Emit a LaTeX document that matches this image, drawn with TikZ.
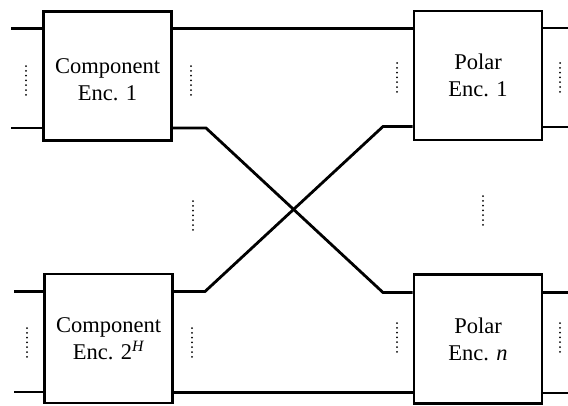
\documentclass[tikz,border=0pt]{standalone}
\usepackage{fontspec}
\setmainfont{Liberation Serif}
\begin{document}
\begin{tikzpicture}[x=1pt,y=-1pt,
  box/.style={draw, line width=2.8pt, minimum width=128pt, minimum height=129pt,
    align=center, inner sep=0pt, font=\fontsize{22.5}{27}\selectfont},
  label text/.style={align=center, font=\fontsize{22.5}{27}\selectfont},
  wire/.style={line width=2.8pt},
  dots/.style={line width=2pt, dash pattern=on 0pt off 4.8pt, line cap=round}]
\useasboundingbox (0,0) rectangle (568,405);
% boxes
\node[box] (ce1) at (107.5,76) {};
\node[label text] (ce1text) at (107.5,80) {Component\\Enc. 1};
\node[box] (p1) at (478,75.5) {Polar\\Enc. 1};
\node[box] (ce2) at (108.5,338.5) {Component\\Enc. 2\textsuperscript{\itshape H}};
\node[box] (pn) at (478,339) {Polar\\Enc. \textit{n}};
% free ends
\coordinate (a1) at (11,28.5);
\coordinate (a2) at (11,128);
\coordinate (a3) at (14,291.5);
\coordinate (a4) at (14,392);
\coordinate (b1) at (568,28);
\coordinate (b2) at (568,127);
\coordinate (b3) at (568,292.5);
\coordinate (b4) at (568,393);
% bends
\coordinate (k1) at (206,128);
\coordinate (k2) at (383,292.5);
\coordinate (k3) at (205,291.5);
\coordinate (k4) at (383,126.5);
% outer wires
\draw[wire] (a1) -- (ce1.west |- a1);
\draw[wire] (a2) -- (ce1.west |- a2);
\draw[wire] (a3) -- (ce2.west |- a3);
\draw[wire] (a4) -- (ce2.west |- a4);
\draw[wire] (pn.east |- b3) -- (b3);
\draw[wire] (pn.east |- b4) -- (b4);
\draw[wire] (p1.east |- b1) -- (b1);
\draw[wire] (p1.east |- b2) -- (b2);
% inner wires
\draw[wire] (ce1.east |- 0,28.5) -- (p1.west |- 0,28.5);
\draw[wire] (ce2.east |- 0,392.5) -- (pn.west |- 0,392.5);
\draw[wire] (ce1.east |- k1) -- (k1) -- (k2) -- (pn.west |- k2);
\draw[wire] (ce2.east |- k3) -- (k3) -- (k4) -- (p1.west |- k4);
% dotted ellipses
\draw[dots] (26,66) -- (26,98);
\draw[dots] (191,66) -- (191,99);
\draw[dots] (397,63) -- (397,95);
\draw[dots] (560,63) -- (560,95);
\draw[dots] (193,201) -- (193,234);
\draw[dots] (483,196) -- (483,229);
\draw[dots] (27,328) -- (27,360);
\draw[dots] (192,328) -- (192,360);
\draw[dots] (397,323) -- (397,356);
\draw[dots] (560,323) -- (560,356);
\end{tikzpicture}
\end{document}
